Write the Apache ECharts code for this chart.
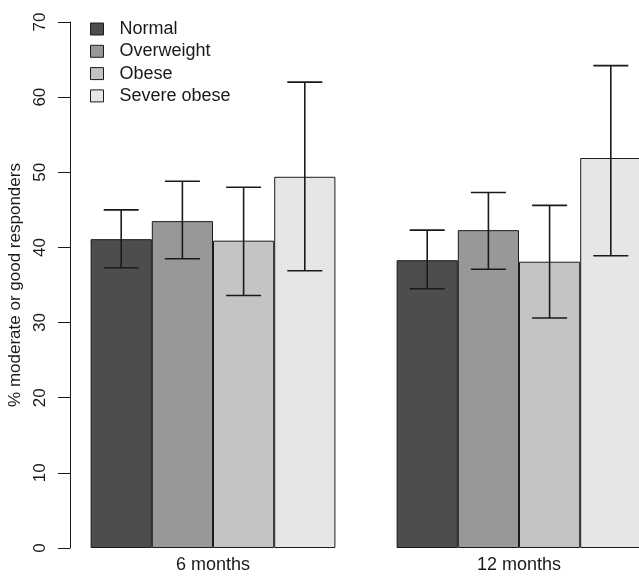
<!DOCTYPE html>
<html>
<head>
<meta charset="utf-8">
<script src="https://cdn.jsdelivr.net/npm/echarts@6/dist/echarts.min.js"></script>
<style>html,body{margin:0;padding:0;background:#fff}#c{width:639px;height:576px}</style>
</head>
<body>
<div id="c"></div>
<script>
var categories = ['6 months', '12 months'];
var groups = ['Normal', 'Overweight', 'Obese', 'Severe obese'];
var colors = ['#4D4D4D', '#989898', '#C4C4C4', '#E6E6E6'];
// percentages per group: [6 months, 12 months]
var normalVals = [41.1, 38.3];
var overweightVals = [43.5, 42.3];
var obeseVals = [40.9, 38.1];
var severeVals = [49.4, 51.9];
// confidence intervals [low, high]
var normalCI = [[37.3, 45.0], [34.5, 42.3]];
var overweightCI = [[38.5, 48.8], [37.1, 47.3]];
var obeseCI = [[33.6, 48.0], [30.6, 45.6]];
var severeCI = [[36.9, 62.0], [38.9, 64.2]];
var yTicks = [0, 10, 20, 30, 40, 50, 60, 70];

var allVals = [normalVals, overweightVals, obeseVals, severeVals];
var allCI = [normalCI, overweightCI, obeseCI, severeCI];

var errData = [];
allCI.forEach(function (ci, gi) {
  ci.forEach(function (r, ci2) { errData.push([ci2, gi, r[0], r[1]]); });
});

var FONT = 'Liberation Sans, Arial, sans-serif';
var series = groups.map(function (g, i) {
  return {
    name: g, type: 'bar', data: allVals[i],
    barGap: '0%', barCategoryGap: '20%',
    itemStyle: { color: colors[i], borderColor: '#1a1a1a', borderWidth: 1 },
    emphasis: { disabled: true }
  };
});
series.push({
  type: 'custom', data: errData, z: 10, silent: true,
  encode: { x: 0, y: [2, 3] },
  renderItem: function (params, api) {
    var cat = api.value(0), gi = api.value(1);
    var band = api.size([1, 0])[0];
    var bw = band * 0.2;
    var c = api.coord([cat, api.value(2)]);
    var x = c[0] + (gi - 1.5) * bw;
    var yl = c[1];
    var yh = api.coord([cat, api.value(3)])[1];
    var hw = 17.5;
    var st = { stroke: '#1a1a1a', lineWidth: 1.6 };
    return { type: 'group', children: [
      { type: 'line', shape: { x1: x, y1: yl, x2: x, y2: yh }, style: st },
      { type: 'line', shape: { x1: x - hw, y1: yl, x2: x + hw, y2: yl }, style: st },
      { type: 'line', shape: { x1: x - hw, y1: yh, x2: x + hw, y2: yh }, style: st }
    ]};
  }
});

var chart = echarts.init(document.getElementById('c'), null, { renderer: 'canvas' });
chart.setOption({
  animation: false,
  backgroundColor: '#fff',
  textStyle: { fontFamily: FONT },
  legend: {
    data: groups, orient: 'vertical', left: 85, top: 15,
    itemWidth: 13, itemHeight: 12, itemGap: 4.3,
    icon: 'rect',
    itemStyle: { borderColor: '#1a1a1a', borderWidth: 1 },
    textStyle: { fontSize: 18, color: '#1a1a1a', fontFamily: FONT, lineHeight: 18, padding: [0, 0, 0, 11] },
    selectedMode: false
  },
  grid: { left: 60, top: 22, width: 612, bottom: 28, containLabel: false, outerBoundsMode: 'none' },
  xAxis: {
    type: 'category', data: categories,
    axisLine: { show: false }, axisTick: { show: false },
    axisLabel: { fontSize: 18, color: '#1a1a1a', fontFamily: FONT, margin: 8 }
  },
  yAxis: {
    type: 'value', min: 0, max: 70, interval: 10, offset: -10,
    name: '% moderate or good responders', nameLocation: 'middle', nameGap: 40,
    nameRotate: 90,
    nameTextStyle: { fontSize: 17, color: '#1a1a1a', fontFamily: FONT },
    splitLine: { show: false },
    axisLine: { show: true, lineStyle: { color: '#1a1a1a', width: 1 } },
    axisTick: { show: true, length: 12, lineStyle: { color: '#1a1a1a' } },
    axisLabel: { rotate: 90, fontSize: 17, color: '#1a1a1a', fontFamily: FONT, margin: 21,
      formatter: function (v) { return yTicks.indexOf(v) >= 0 ? String(v) : ''; } }
  },
  series: series
});
</script>
</body>
</html>
